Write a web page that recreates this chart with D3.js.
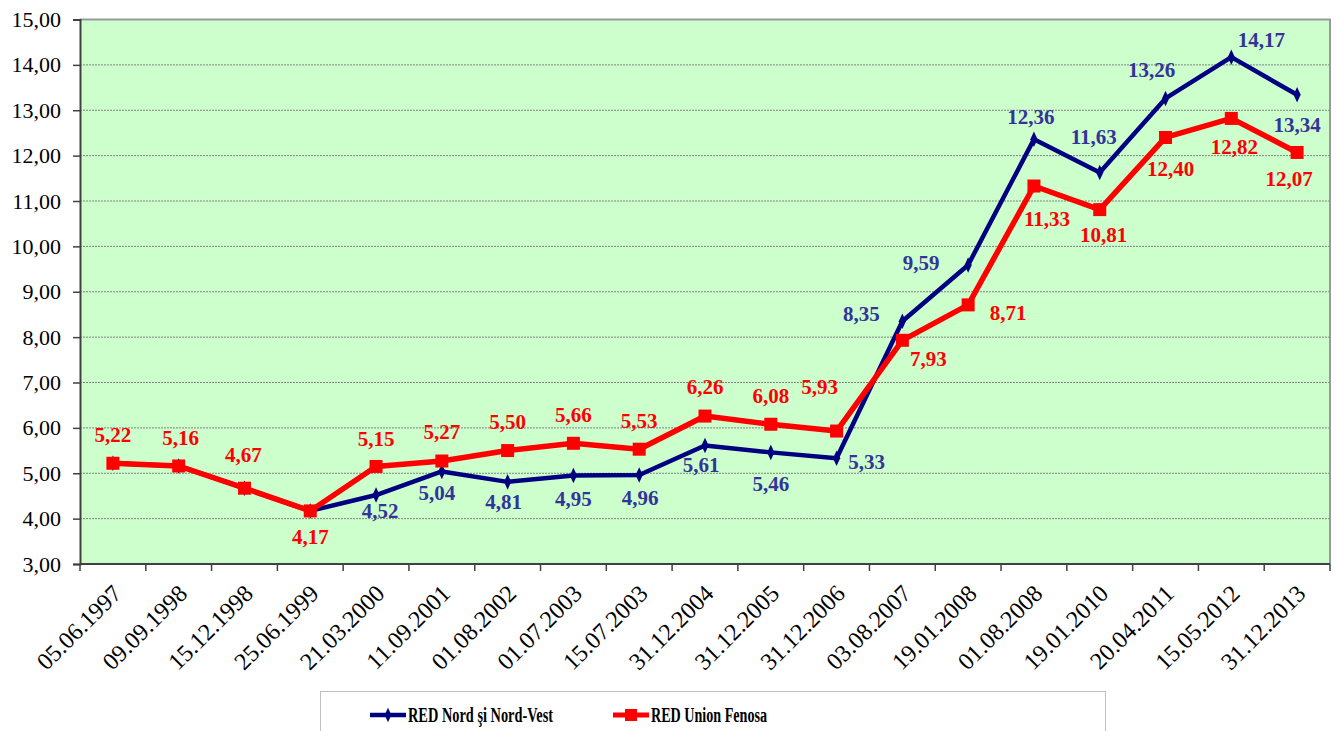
<!DOCTYPE html>
<html>
<head>
<meta charset="utf-8">
<script src="https://cdn.jsdelivr.net/npm/d3@7"></script>
<style>
  body { margin: 0; background: #fff; }
</style>
</head>
<body>
<div id="chart"></div>
<script>
// data
const dates = ["05.06.1997", "09.09.1998", "15.12.1998", "25.06.1999", "21.03.2000", "11.09.2001",
  "01.08.2002", "01.07.2003", "15.07.2003", "31.12.2004", "31.12.2005", "31.12.2006", "03.08.2007",
  "19.01.2008", "01.08.2008", "19.01.2010", "20.04.2011", "15.05.2012", "31.12.2013"];
const nordValues = [5.22, 5.16, 4.67, 4.17, 4.52, 5.04, 4.81, 4.95, 4.96, 5.61, 5.46, 5.33, 8.35, 9.59, 12.36, 11.63, 13.26, 14.17, 13.34];
const fenosaValues = [5.22, 5.16, 4.67, 4.17, 5.15, 5.27, 5.50, 5.66, 5.53, 6.26, 6.08, 5.93, 7.93, 8.71, 11.33, 10.81, 12.40, 12.82, 12.07];
const yTicks = [3, 4, 5, 6, 7, 8, 9, 10, 11, 12, 13, 14, 15];
const seriesNames = ["RED Nord şi Nord-Vest", "RED Union Fenosa"];

const FONT = "'Liberation Serif', 'Times New Roman', Times, serif";
const width = 1334, height = 731;
const margin = {top: 19.5, right: 4, bottom: 167, left: 80};

const svg = d3.select("#chart").append("svg")
  .attr("width", width)
  .attr("height", height)
  .style("font-family", FONT);

const x = d3.scaleBand()
  .domain(dates)
  .range([margin.left, width - margin.right]);

const y = d3.scaleLinear()
  .domain([3, 15])
  .range([height - margin.bottom, margin.top]);

const fmt = v => d3.format(".2f")(v).replace(".", ",");
const cx = d => x(d) + x.bandwidth() / 2;

// plot background
svg.append("rect")
  .attr("x", margin.left).attr("y", margin.top)
  .attr("width", width - margin.right - margin.left)
  .attr("height", y(3) - margin.top)
  .attr("fill", "#ccffcc");

// gridlines
svg.append("g")
  .selectAll("line")
  .data(yTicks.filter(t => t > 3 && t < 15))
  .join("line")
    .attr("x1", margin.left).attr("x2", width - margin.right)
    .attr("y1", d => y(d)).attr("y2", d => y(d))
    .attr("stroke", "#808080")
    .attr("stroke-width", 1)
    .attr("stroke-dasharray", "2,1");

// top and right border
svg.append("path")
  .attr("d", `M${margin.left},${y(15)}H${width - margin.right}V${y(3)}`)
  .attr("fill", "none")
  .attr("stroke", "#999")
  .attr("stroke-width", 2);

// y axis
const yAxis = svg.append("g")
  .attr("transform", `translate(${margin.left},0)`)
  .call(d3.axisLeft(y).tickValues(yTicks).tickFormat(fmt).tickSize(7).tickPadding(12));
yAxis.attr("font-family", FONT);
yAxis.select(".domain").attr("stroke", "#404040").attr("stroke-width", 2);
yAxis.selectAll(".tick line").attr("stroke", "#404040").attr("stroke-width", 1.5);
yAxis.selectAll("text")
  .attr("font-family", FONT)
  .attr("font-size", 22)
  .attr("fill", "#000");

// x axis with ticks at category boundaries
const xAxis = svg.append("g")
  .attr("transform", `translate(0,${y(3)})`);
xAxis.append("line")
  .attr("x1", margin.left).attr("x2", width - margin.right)
  .attr("stroke", "#404040").attr("stroke-width", 2);
xAxis.selectAll(".bt")
  .data(dates)
  .join("line")
    .attr("class", "bt")
    .attr("x1", d => x(d)).attr("x2", d => x(d))
    .attr("y1", 0).attr("y2", 7)
    .attr("stroke", "#404040").attr("stroke-width", 1.5);
xAxis.append("line")
  .attr("x1", width - margin.right).attr("x2", width - margin.right)
  .attr("y1", 0).attr("y2", 7)
  .attr("stroke", "#404040").attr("stroke-width", 1.5);
xAxis.selectAll("text")
  .data(dates)
  .join("text")
    .attr("transform", d => `translate(${cx(d) + 10},${31}) rotate(-45)`)
    .attr("text-anchor", "end")
    .attr("font-family", FONT)
    .attr("font-size", 24)
    .attr("fill", "#000")
    .text(d => d);

const line = d3.line()
  .x((d, i) => cx(dates[i]))
  .y(d => y(d));

// blue series (drawn first, red on top)
svg.append("path")
  .datum(nordValues)
  .attr("d", line)
  .attr("fill", "none")
  .attr("stroke", "#000080")
  .attr("stroke-width", 4.5)
  .attr("stroke-linejoin", "round");

svg.append("g")
  .selectAll("path")
  .data(nordValues)
  .join("path")
    .attr("d", d3.symbol(d3.symbolDiamond, 70))
    .attr("transform", (d, i) => `translate(${cx(dates[i])},${y(d)}) scale(0.8,1)`)
    .attr("fill", "#000080");

svg.append("path")
  .datum(fenosaValues)
  .attr("d", line)
  .attr("fill", "none")
  .attr("stroke", "#ff0000")
  .attr("stroke-width", 5.5)
  .attr("stroke-linejoin", "round");

svg.append("g")
  .selectAll("rect")
  .data(fenosaValues)
  .join("rect")
    .attr("x", (d, i) => cx(dates[i]) - 6.5)
    .attr("y", d => y(d) - 6.5)
    .attr("width", 13)
    .attr("height", 13)
    .attr("fill", "#ff0000");

// label offsets from each point (dx, dy); null = no label
const nordLabelPos = [null, null, null, null, [4, 16], [-5, 21], [-4, 20], [0, 23], [1, 23], [-4, 19], [0, 31], [30, 3],
  [-41, -8], [-47, -2], [-3, -23], [-6, -36], [-14, -29], [30, -18], [0, 30]];
const fenosaLabelPos = [[0, -29], [2, -28], [-1, -34], [0, 26], [0, -28], [0, -29], [0, -29], [0, -29], [0, -29],
  [0, -29], [0, -29], [-17, -44], [26, 18], [40, 8], [13, 33], [4, 25], [5, 31], [3, 28], [-8, 26]];

const nordLabels = nordValues
  .map((v, i) => ({v, i, pos: nordLabelPos[i]}))
  .filter(d => d.pos);

svg.append("g")
  .selectAll("text")
  .data(nordLabels)
  .join("text")
    .attr("x", d => cx(dates[d.i]) + d.pos[0])
    .attr("y", d => y(d.v) + d.pos[1])
    .attr("text-anchor", "middle")
    .attr("dy", "0.35em")
    .attr("font-family", FONT)
    .attr("font-size", 21)
    .attr("font-weight", "bold")
    .attr("fill", "#333399")
    .text(d => fmt(d.v));

svg.append("g")
  .selectAll("text")
  .data(fenosaValues)
  .join("text")
    .attr("x", (d, i) => cx(dates[i]) + fenosaLabelPos[i][0])
    .attr("y", (d, i) => y(d) + fenosaLabelPos[i][1])
    .attr("text-anchor", "middle")
    .attr("dy", "0.35em")
    .attr("font-family", FONT)
    .attr("font-size", 21)
    .attr("font-weight", "bold")
    .attr("fill", "#ff0000")
    .text(d => fmt(d));

// legend
const legend = svg.append("g");
legend.append("rect")
  .attr("x", 320.5).attr("y", 691.5)
  .attr("width", 785).attr("height", 60)
  .attr("fill", "#fff")
  .attr("stroke", "#c0c0c0");

const legendItems = [
  {name: seriesNames[0], color: "#000080", x: 370, marker: "diamond", len: 145},
  {name: seriesNames[1], color: "#ff0000", x: 613, marker: "square", len: 116}
];
legendItems.forEach(it => {
  legend.append("line")
    .attr("x1", it.x).attr("x2", it.x + 36)
    .attr("y1", 715).attr("y2", 715)
    .attr("stroke", it.color)
    .attr("stroke-width", it.marker === "square" ? 5 : 4.5);
  if (it.marker === "square") {
    legend.append("rect")
      .attr("x", it.x + 12).attr("y", 709)
      .attr("width", 12).attr("height", 12)
      .attr("fill", it.color);
  } else {
    legend.append("path")
      .attr("d", d3.symbol(d3.symbolDiamond, 60))
      .attr("transform", `translate(${it.x + 18},715) scale(0.8,1)`)
      .attr("fill", it.color);
  }
  legend.append("text")
    .attr("x", it.x + 38).attr("y", 715)
    .attr("dy", "0.35em")
    .attr("font-family", FONT)
    .attr("font-size", 20)
    .attr("font-weight", "bold")
    .attr("textLength", it.len)
    .attr("lengthAdjust", "spacingAndGlyphs")
    .attr("fill", "#000")
    .text(it.name);
});
</script>
</body>
</html>
